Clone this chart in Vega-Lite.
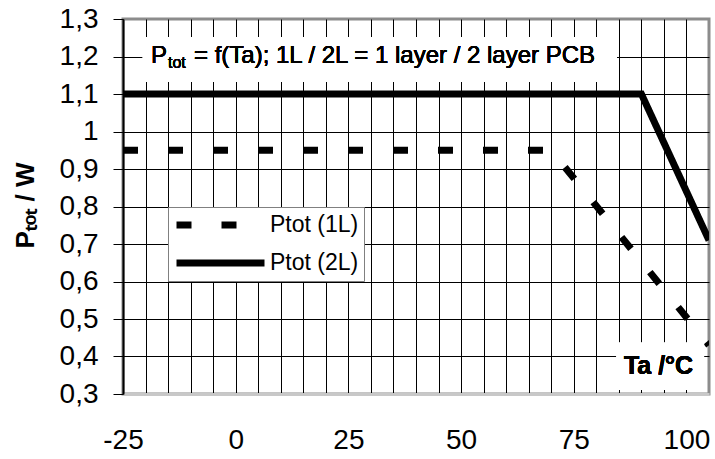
{
  "$schema": "https://vega.github.io/schema/vega-lite/v6.json",
  "background": "white",
  "autosize": {"type": "none"},
  "padding": {"left": 123, "top": 19, "right": 6, "bottom": 65},
  "width": 586,
  "height": 375,
  "config": {
    "font": "Liberation Sans",
    "view": {"stroke": "#8c8c8c", "strokeWidth": 3}
  },
  "data": {
    "values": [
      {"Ta": -25, "P": 0.95, "series": "Ptot (1L)"},
      {"Ta": 70, "P": 0.95, "series": "Ptot (1L)"},
      {"Ta": 105, "P": 0.43, "series": "Ptot (1L)"},
      {"Ta": -25, "P": 1.1, "series": "Ptot (2L)"},
      {"Ta": 90, "P": 1.1, "series": "Ptot (2L)"},
      {"Ta": 105, "P": 0.71, "series": "Ptot (2L)"}
    ]
  },
  "encoding": {
    "x": {
      "field": "Ta",
      "type": "quantitative",
      "scale": {"domain": [-25, 105], "nice": false, "zero": false},
      "axis": {
        "title": null,
        "values": [-25, -20, -15, -10, -5, 0, 5, 10, 15, 20, 25, 30, 35, 40, 45, 50, 55, 60, 65, 70, 75, 80, 85, 90, 95, 100],
        "labelExpr": "datum.value % 25 === 0 ? replace(datum.label, '−', '-') : ''",
        "labelFontSize": 28,
        "labelColor": "black",
        "labelPadding": 32,
        "labelFlush": false,
        "labelOverlap": false,
        "ticks": false,
        "domainColor": "#c8c8c8",
        "domainWidth": 3,
        "grid": true,
        "gridColor": "black",
        "gridOpacity": 1,
        "gridWidth": 1
      }
    },
    "y": {
      "field": "P",
      "type": "quantitative",
      "scale": {"domain": [0.3, 1.3], "nice": false, "zero": false},
      "axis": {
        "title": "Pₜₒₜ / W",
        "titleFontSize": 26,
        "titleFontWeight": "bold",
        "titleColor": "black",
        "titleAngle": -90,
        "titleX": -90,
        "titleY": 186,
        "titleAlign": "center",
        "titleBaseline": "alphabetic",
        "values": [0.3, 0.4, 0.5, 0.6, 0.7, 0.8, 0.9, 1, 1.1, 1.2, 1.3],
        "format": ".1~f",
        "labelExpr": "replace(datum.label, '.', ',')",
        "labelFontSize": 28,
        "labelColor": "black",
        "labelPadding": 15,
        "labelFlush": false,
        "labelOverlap": false,
        "tickSize": 10,
        "tickColor": "black",
        "domainColor": "black",
        "domainWidth": 2,
        "grid": true,
        "gridColor": {
          "condition": {"test": "datum.value < 0.35 || datum.value > 1.25", "value": "transparent"},
          "value": "black"
        },
        "gridOpacity": 1,
        "gridWidth": 1
      }
    }
  },
  "layer": [
    {
      "mark": {"type": "line", "color": "black", "strokeWidth": 7, "strokeCap": "butt", "clip": true},
      "encoding": {
        "strokeDash": {
          "field": "series",
          "type": "nominal",
          "scale": {"domain": ["Ptot (1L)", "Ptot (2L)"], "range": [[15, 30], [1, 0]]},
          "legend": {
            "title": null,
            "orient": "none",
            "legendX": 45,
            "legendY": 188,
            "symbolType": "stroke",
            "symbolSize": 7744,
            "symbolStrokeWidth": 7,
            "symbolStrokeColor": "black",
            "clipHeight": 26,
            "rowPadding": 12,
            "padding": 5,
            "labelFontSize": 23,
            "labelColor": "black",
            "labelOffset": 2,
            "labelBaseline": "middle",
            "fillColor": "white",
            "strokeColor": "#808080"
          }
        }
      }
    },
    {
      "mark": {"type": "rect", "color": "white"},
      "encoding": {
        "x": {"datum": -20.6},
        "x2": {"datum": 84.5},
        "y": {"datum": 1.252},
        "y2": {"datum": 1.132}
      }
    },
    {
      "mark": {"type": "text", "align": "left", "baseline": "alphabetic", "fontSize": 24, "color": "black"},
      "encoding": {
        "x": {"datum": -18.8},
        "y": {"datum": 1.183},
        "text": {"value": "P"}
      }
    },
    {
      "mark": {"type": "text", "align": "left", "baseline": "alphabetic", "fontSize": 16, "color": "black", "dx": 17, "dy": 5},
      "encoding": {
        "x": {"datum": -18.8},
        "y": {"datum": 1.183},
        "text": {"value": "tot"}
      }
    },
    {
      "mark": {"type": "text", "align": "left", "baseline": "alphabetic", "fontSize": 24, "color": "black", "dx": 43},
      "encoding": {
        "x": {"datum": -18.8},
        "y": {"datum": 1.183},
        "text": {"value": "= f(Ta); 1L / 2L = 1 layer / 2 layer PCB"}
      }
    },
    {
      "mark": {"type": "rect", "color": "white"},
      "encoding": {
        "x": {"datum": 84.5},
        "x2": {"datum": 103.9},
        "y": {"datum": 0.437},
        "y2": {"datum": 0.311}
      }
    },
    {
      "mark": {"type": "text", "align": "center", "baseline": "alphabetic", "fontSize": 25, "fontWeight": "bold", "color": "black"},
      "encoding": {
        "x": {"datum": 93.8},
        "y": {"datum": 0.353},
        "text": {"value": "Ta /°C"}
      }
    }
  ]
}
